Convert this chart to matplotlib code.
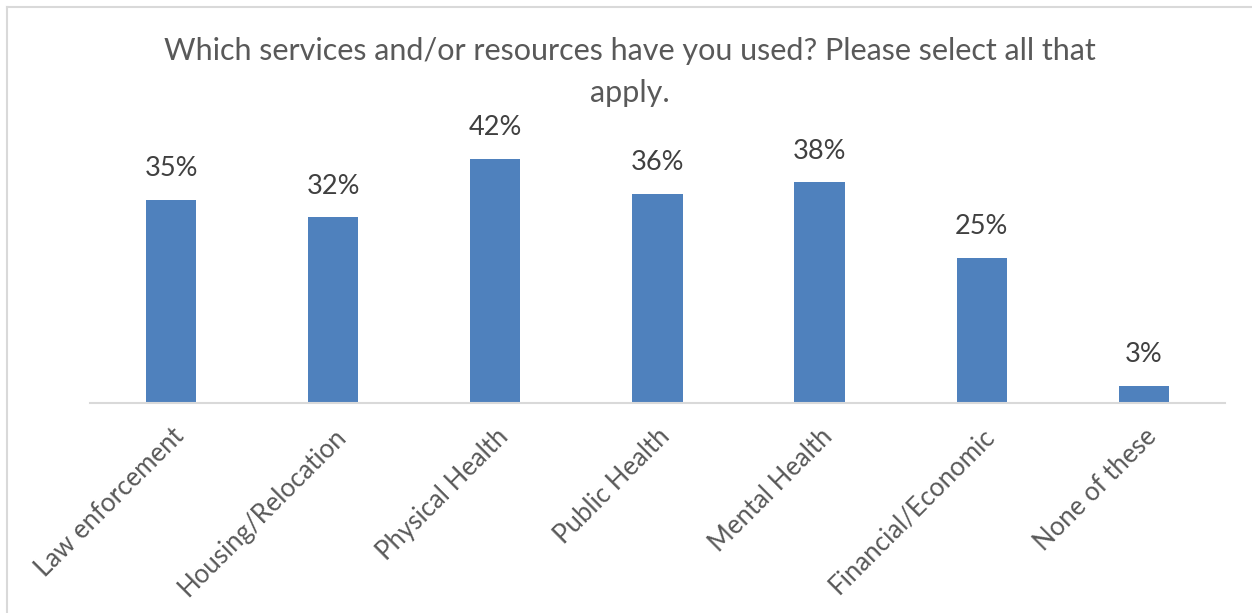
import matplotlib.pyplot as plt
from matplotlib.lines import Line2D

categories = ['Law enforcement', 'Housing/Relocation', 'Physical Health', 'Public Health',
              'Mental Health', 'Financial/Economic', 'None of these']
shares = [0.35, 0.32, 0.42, 0.36, 0.38, 0.25, 0.03]

plt.rcParams['font.family'] = ['Lato', 'DejaVu Sans']

fig = plt.figure(figsize=(12.52, 6.13), dpi=100)
ax = fig.add_axes([0.0719, 0.3426, 0.9065, 0.4614])

x = range(len(categories))
bars = ax.bar(x, shares, width=0.31, color='#4f81bd', zorder=2)
for b, v in zip(bars, shares):
    ax.text(b.get_x() + b.get_width() / 2, v + 0.032, '{:.0f}%'.format(v * 100),
            ha='center', va='bottom', fontsize=19.5, color='#404040')

ax.set_xlim(-0.5, len(categories) - 0.5)
ax.set_ylim(0, 0.487)
ax.set_yticks([])
ax.set_xticks(list(x))
ax.set_xticklabels(categories, rotation=45, ha='right', rotation_mode='anchor',
                   fontsize=18.5, color='#595959')
ax.tick_params(axis='x', length=0, pad=15)
for s in ['top', 'right', 'left']:
    ax.spines[s].set_visible(False)
ax.spines['bottom'].set_color('#d9d9d9')
ax.spines['bottom'].set_linewidth(1.5)

fig.text(0.503, 0.916, 'Which services and/or resources have you used? Please select all that',
         ha='center', va='center', fontsize=22, color='#595959')
fig.text(0.503, 0.848, 'apply.', ha='center', va='center', fontsize=22, color='#595959')

# chart frame (only top and left edges fall inside the image)
fig.add_artist(Line2D([7 / 1252, 7 / 1252], [0, 1 - 7 / 613], transform=fig.transFigure,
                      color='#d9d9d9', lw=1.5))
fig.add_artist(Line2D([7 / 1252, 1], [1 - 7 / 613, 1 - 7 / 613], transform=fig.transFigure,
                      color='#d9d9d9', lw=1.5))

fig.savefig('out.png', dpi=100)
